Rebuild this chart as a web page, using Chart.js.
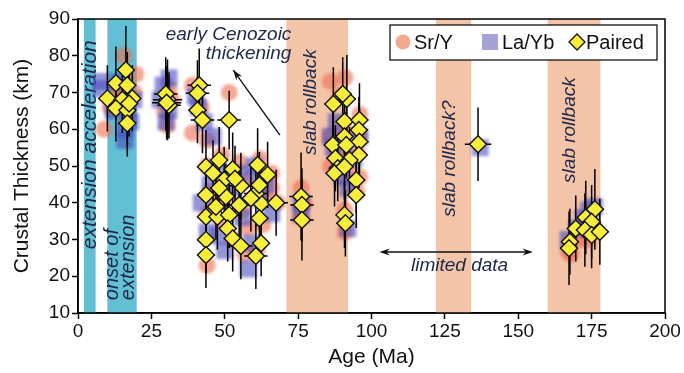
<!DOCTYPE html>
<html>
<head>
<meta charset="utf-8">
<title>Crustal thickness vs age</title>
<script src="https://cdn.jsdelivr.net/npm/chart.js@4.4.1/dist/chart.umd.min.js"></script>
<style>
    html, body { margin: 0; padding: 0; background: #fff; }
    #wrap { width: 684px; height: 373px; position: relative; }
</style>
</head>
<body>
<div id="wrap"><canvas id="chartCanvas"></canvas></div>
<script>
// Paired estimates (age in Ma, thickness in km) with error half-widths
const pairedAge = [
    10.0, 12.9, 16.3, 16.8, 18.5, 15.1, 12.9, 16.8, 16.8, 17.4,
    30.5, 29.9, 31.0, 30.2,
    41.3, 40.7, 40.7, 42.4, 51.5,
    43.6, 48.1, 52.7, 61.2, 64.6, 43.6, 55.5, 49.8, 50.4, 54.9,
    62.4, 67.5, 43.6, 47.5, 51.5, 51.0, 61.8, 43.6, 52.7, 55.5,
    62.4, 43.6, 60.6, 47.0, 48.1, 60.6, 61.8, 58.9, 46.0, 53.5,
    76.0, 76.3, 76.3,
    87.0, 91.6, 90.2, 90.8, 95.9, 95.7, 95.9, 95.7, 86.8, 90.8,
    91.4, 87.7, 92.5, 88.5, 87.4, 90.8, 94.8, 94.8, 90.8, 91.1,
    136.3,
    167.6, 167.3, 169.6, 173.0, 176.1, 175.0, 172.7, 175.0, 177.8
];
const pairedThick = [
    68.4, 72.5, 76.1, 72.0, 68.4, 68.0, 65.7, 65.2, 61.6, 67.0,
    68.0, 69.6, 66.5, 67.2,
    72.0, 69.8, 65.2, 62.5, 62.5,
    49.8, 51.6, 49.1, 50.3, 47.6, 42.1, 44.6, 46.2, 41.7, 39.4,
    39.8, 40.0, 36.2, 36.2, 36.7, 33.0, 35.8, 29.9, 30.3, 28.2,
    29.0, 25.8, 25.5, 38.9, 44.0, 42.5, 44.8, 41.2, 48.0, 46.5,
    41.7, 39.4, 35.3,
    66.9, 68.2, 69.6, 62.1, 62.5, 59.8, 56.6, 53.0, 55.7, 58.0,
    55.7, 52.1, 51.6, 49.4, 48.0, 49.8, 46.2, 42.1, 36.7, 34.4,
    55.9,
    29.4, 27.6, 33.0, 36.0, 38.2, 34.8, 32.6, 31.2, 32.1
];
const pairedAgeErr = [
    3, 3, 3, 3, 3, 3, 3, 3, 3, 3,
    5, 4, 4, 5,
    4, 4, 3, 4, 4,
    3, 3, 3, 3, 3, 3, 4, 3, 3, 4,
    3, 4, 3, 3, 4, 3, 3, 3, 3, 4,
    3, 3, 4, 3, 3, 4, 3, 4, 3, 3,
    4, 4, 4,
    3, 3, 3, 3, 3, 3, 3, 3, 3, 3,
    3, 3, 3, 3, 3, 3, 3, 3, 3, 3,
    4.5,
    3, 3, 3, 3, 3, 3, 3, 3, 3
];
const pairedThickErr = [
    9, 10, 12, 9, 9, 9, 9, 10, 9, 9,
    11, 10, 9, 10,
    10, 9, 9, 9, 8,
    10, 9, 10, 10, 9, 9, 9, 9, 9, 9,
    9, 9, 9, 9, 9, 9, 9, 9, 9, 9,
    9, 9, 9, 9, 9, 9, 9, 9, 9, 9,
    12, 10, 11,
    10, 12, 10, 9, 10, 9, 9, 9, 9, 9,
    9, 9, 9, 9, 9, 9, 9, 9, 9, 9,
    10,
    9, 10, 9, 10, 11, 10, 10, 9, 9
];

// Sr/Y estimates
const srAge = [
    15.7, 19.7, 19.1, 8.9, 11, 14, 17, 13,
    30.4, 31, 29.5, 32,
    39, 39, 51.5, 42, 44,
    44, 49, 55, 62, 66, 45, 57, 51, 56, 64, 68, 44, 49, 53, 58, 63, 44, 57, 61, 47, 66,
    76, 77, 76,
    86, 91, 89, 96, 96, 95, 86, 91, 88, 93, 86, 96, 95, 91, 91,
    167, 168, 171, 174, 176, 173
];
const srThick = [
    80, 75, 70, 60, 66, 71, 63, 69,
    61, 71, 65, 68,
    72, 59, 70, 66, 57,
    50, 53, 51, 52, 48, 43, 46, 42, 38, 41, 40, 37, 35, 30, 33, 34, 23, 26, 27, 40, 44,
    44, 40, 36,
    73, 74, 69, 64, 58, 54, 58, 60, 53, 49, 50, 47, 43, 38, 32,
    27, 26, 30, 30, 33, 35
];

// La/Yb estimates
const laAge = [
    8, 8, 12, 16, 16, 18, 14, 17, 19,
    29, 30, 31, 28, 31,
    40, 43, 41, 46,
    45, 47, 60, 61, 66, 50, 58, 44, 53, 62, 56, 48, 64, 55, 42, 59,
    76, 76,
    86, 87, 90, 92, 96, 94, 88, 92, 89,
    137,
    172, 176, 170, 174, 167
];
const laThick = [
    73, 71, 65, 57, 60, 62, 73, 66, 68,
    72, 62, 65, 68, 74,
    69, 62, 66, 58,
    45, 49, 50, 47, 37, 27, 22, 32, 44, 41, 36, 31, 45, 48, 40, 29,
    37, 40,
    58, 55, 47, 33, 58, 52, 62, 44, 50,
    55,
    36, 39, 33, 38, 30
];

// Shaded intervals (Ma)
const bandStart = [2, 10, 71, 122, 160];
const bandEnd = [6, 20, 92, 134, 178];
const bandKind = ['ext', 'ext', 'roll', 'roll', 'roll'];

const xTicks = [0, 25, 50, 75, 100, 125, 150, 175, 200];
const yTicks = [10, 20, 30, 40, 50, 60, 70, 80, 90];
const seriesNames = ['Sr/Y', 'La/Yb', 'Paired'];

const FONT = '"Liberation Sans", Arial, sans-serif';
const NOTE_COLOR = '#1d2748';
const SR_COLOR = 'rgba(236, 108, 78, 0.6)';
const LA_COLOR = 'rgba(70, 72, 190, 0.58)';
const PAIRED_COLOR = '#f7ee3c';

// shaded bands behind everything
const bandsPlugin = {
    id: 'bands',
    beforeDatasetsDraw(chart) {
        const { ctx, chartArea, scales: { x } } = chart;
        ctx.save();
        bandStart.forEach((s, i) => {
            const x0 = x.getPixelForValue(s);
            const x1 = x.getPixelForValue(bandEnd[i]);
            ctx.fillStyle = bandKind[i] === 'ext' ? '#63bfd3' : '#f4c4a9';
            ctx.fillRect(x0, chartArea.top, x1 - x0, chartArea.bottom - chartArea.top);
        });
        ctx.restore();
    }
};

// text notes and arrows
const notesPlugin = {
    id: 'notes',
    beforeDatasetsDraw(chart) {
        const { ctx, scales: { x, y } } = chart;
        const px = v => x.getPixelForValue(v);
        const py = v => y.getPixelForValue(v);

        ctx.save();
        ctx.fillStyle = NOTE_COLOR;
        ctx.textBaseline = 'middle';

        const vText = (text, ax, ay, align, size) => {
            ctx.save();
            ctx.translate(px(ax), py(ay));
            ctx.rotate(-Math.PI / 2);
            ctx.font = `italic ${size}px ${FONT}`;
            ctx.textAlign = align;
            ctx.fillText(text, 0, 0);
            ctx.restore();
        };
        vText('extension acceleration', 4, 55.8, 'center', 21);
        vText('onset of', 11.7, 13.5, 'left', 20);
        vText('extension', 17.3, 13.5, 'left', 20);
        vText('slab rollback', 79.2, 53, 'left', 19);
        vText('slab rollback?', 126.8, 36.2, 'left', 19);
        vText('slab rollback', 167.6, 45.4, 'left', 19);

        ctx.font = `italic 19px ${FONT}`;
        ctx.textAlign = 'right';
        ctx.fillText('early Cenozoic', px(72.7), py(85.6));
        ctx.fillText('thickening', px(72.7), py(80.6));
        ctx.textAlign = 'center';
        ctx.fillText('limited data', px(130), py(23.0));

        // arrows
        const head = (x0, y0, x1, y1) => {
            const a = Math.atan2(y1 - y0, x1 - x0);
            ctx.beginPath();
            ctx.moveTo(x1, y1);
            ctx.lineTo(x1 - 11 * Math.cos(a - 0.33), y1 - 11 * Math.sin(a - 0.33));
            ctx.lineTo(x1 - 7 * Math.cos(a), y1 - 7 * Math.sin(a));
            ctx.lineTo(x1 - 11 * Math.cos(a + 0.33), y1 - 11 * Math.sin(a + 0.33));
            ctx.closePath();
            ctx.fill();
        };
        ctx.strokeStyle = '#111';
        ctx.fillStyle = '#111';
        ctx.lineWidth = 1.4;

        let x0 = px(68.8), y0 = py(58.4), x1 = px(52.9), y1 = py(76.1);
        ctx.beginPath(); ctx.moveTo(x0, y0); ctx.lineTo(x1, y1); ctx.stroke();
        head(x0, y0, x1, y1);

        x0 = px(102.7); x1 = px(155); y0 = y1 = py(26.6);
        ctx.beginPath(); ctx.moveTo(x0 + 5, y0); ctx.lineTo(x1 - 5, y1); ctx.stroke();
        head(x0, y0, x1, y1);
        head(x1, y1, x0, y0);
        ctx.restore();
    }
};

// soft edges on the Sr/Y and La/Yb markers
const blurPlugin = {
    id: 'blurMarks',
    beforeDatasetDraw(chart, args) {
        if (args.index > 1) return;
        chart.ctx.save();
        chart.ctx.filter = 'blur(1.8px)';
    },
    afterDatasetDraw(chart, args) {
        if (args.index > 1) return;
        chart.ctx.restore();
    }
};

// error bars under the paired diamonds
const errorBarsPlugin = {
    id: 'errorBars',
    beforeDatasetDraw(chart, args) {
        if (args.index !== 2) return;
        const { ctx, scales: { x, y } } = chart;
        ctx.save();
        ctx.strokeStyle = '#000';
        ctx.lineWidth = 1.5;
        pairedAge.forEach((a, i) => {
            const t = pairedThick[i];
            const cx = x.getPixelForValue(a);
            const cy = y.getPixelForValue(t);
            ctx.beginPath();
            ctx.moveTo(cx, y.getPixelForValue(t - pairedThickErr[i]));
            ctx.lineTo(cx, y.getPixelForValue(t + pairedThickErr[i]));
            ctx.moveTo(x.getPixelForValue(a - pairedAgeErr[i]), cy);
            ctx.lineTo(x.getPixelForValue(a + pairedAgeErr[i]), cy);
            ctx.stroke();
        });
        ctx.restore();
    }
};

// closed frame plus a boxed legend in the top right corner
const framePlugin = {
    id: 'frame',
    afterDraw(chart) {
        const { ctx, chartArea } = chart;
        ctx.save();
        ctx.strokeStyle = '#000';
        ctx.lineWidth = 1.5;
        ctx.strokeRect(chartArea.left, chartArea.top, chartArea.right - chartArea.left, chartArea.bottom - chartArea.top);

        const bx = chartArea.right - 275;
        const by = chartArea.top + 6;
        const cy = by + 17;
        ctx.fillStyle = '#fff';
        ctx.fillRect(bx, by, 267, 35);
        ctx.lineWidth = 1.2;
        ctx.strokeRect(bx, by, 267, 35);

        ctx.fillStyle = '#f2aa8e';
        ctx.beginPath();
        ctx.arc(bx + 13, cy, 7.5, 0, Math.PI * 2);
        ctx.fill();

        ctx.fillStyle = '#a3a3d6';
        ctx.fillRect(bx + 92, cy - 8, 16, 16);

        const dx = bx + 187;
        ctx.fillStyle = PAIRED_COLOR;
        ctx.strokeStyle = '#111';
        ctx.lineWidth = 1.3;
        ctx.beginPath();
        ctx.moveTo(dx, cy - 8); ctx.lineTo(dx + 8, cy); ctx.lineTo(dx, cy + 8); ctx.lineTo(dx - 8, cy);
        ctx.closePath();
        ctx.fill();
        ctx.stroke();

        ctx.fillStyle = '#111';
        ctx.font = `20px ${FONT}`;
        ctx.textBaseline = 'middle';
        ctx.textAlign = 'left';
        ctx.fillText(seriesNames[0], bx + 24, cy + 1);
        ctx.fillText(seriesNames[1], bx + 112, cy + 1);
        ctx.fillText(seriesNames[2], bx + 196, cy + 1);
        ctx.restore();
    }
};

const toPoints = (xs, ys) => xs.map((v, i) => ({ x: v, y: ys[i] }));

const config = {
    type: 'scatter',
    data: {
        datasets: [
            {
                label: seriesNames[0],
                data: toPoints(srAge, srThick),
                pointStyle: 'circle',
                pointRadius: 8.5,
                backgroundColor: SR_COLOR,
                borderWidth: 0,
                order: 3
            },
            {
                label: seriesNames[1],
                data: toPoints(laAge, laThick),
                pointStyle: 'rect',
                pointRadius: 12,
                backgroundColor: LA_COLOR,
                borderWidth: 0,
                order: 2
            },
            {
                label: seriesNames[2],
                data: toPoints(pairedAge, pairedThick),
                pointStyle: 'rectRot',
                pointRadius: 8.5,
                backgroundColor: PAIRED_COLOR,
                borderColor: '#111',
                borderWidth: 1.4,
                order: 1
            }
        ]
    },
    options: {
        responsive: true,
        maintainAspectRatio: false,
        animation: false,
        devicePixelRatio: 1,
        layout: { padding: { top: 19, right: 19, left: 0, bottom: 0 } },
        plugins: {
            tooltip: { enabled: false },
            legend: { display: false }
        },
        scales: {
            x: {
                type: 'linear',
                min: 0,
                max: 200,
                afterBuildTicks: scale => { scale.ticks = xTicks.map(v => ({ value: v })); },
                afterFit: scale => { scale.height = 60; },
                grid: { drawOnChartArea: false, tickLength: 6, tickColor: '#000', tickWidth: 1.5 },
                border: { color: '#000', width: 1.5 },
                ticks: { color: '#111', padding: 1, font: { family: FONT, size: 19 }, maxRotation: 0 },
                title: { display: true, text: 'Age (Ma)', color: '#111', padding: { top: 0, bottom: 3 }, font: { family: FONT, size: 21 } }
            },
            y: {
                type: 'linear',
                min: 10,
                max: 90,
                afterBuildTicks: scale => { scale.ticks = yTicks.map(v => ({ value: v })); },
                afterFit: scale => { scale.width = 78; },
                grid: { drawOnChartArea: false, tickLength: 6, tickColor: '#000', tickWidth: 1.5 },
                border: { color: '#000', width: 1.5 },
                ticks: { color: '#111', padding: 2, font: { family: FONT, size: 19 } },
                title: { display: true, text: 'Crustal Thickness (km)', color: '#111', padding: { top: 10, bottom: 0 }, font: { family: FONT, size: 21 } }
            }
        }
    },
    plugins: [bandsPlugin, notesPlugin, blurPlugin, errorBarsPlugin, framePlugin]
};

document.addEventListener('DOMContentLoaded', () => {
    const ctx = document.getElementById('chartCanvas').getContext('2d');
    window.thicknessChart = new Chart(ctx, config);
});
</script>
</body>
</html>
